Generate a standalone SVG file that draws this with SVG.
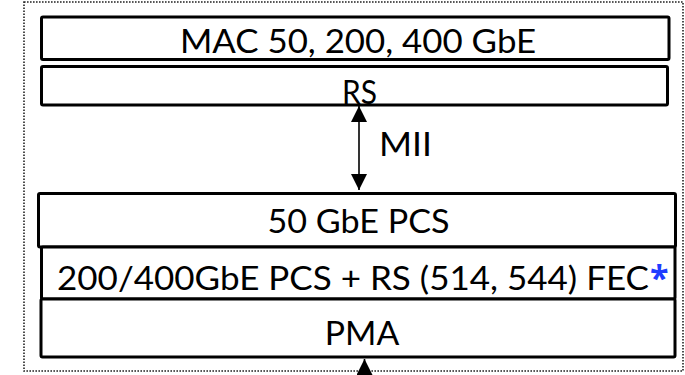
<svg xmlns="http://www.w3.org/2000/svg" width="685" height="375" viewBox="0 0 685 375">
  <style>
    .box { fill: #ffffff; stroke: #000000; stroke-width: 3; }
    .lbl { font-family: Lato, "Open Sans", "Liberation Sans", sans-serif; font-size: 33px; fill: #000000; }
    .star { font-family: "Open Sans", "Liberation Sans", sans-serif; font-size: 34px; font-weight: bold; fill: #1f3cff; }
    .frame { fill: none; stroke: #222222; stroke-width: 1.6; stroke-dasharray: 1.6 1.4; }
    .conn { stroke: #000000; stroke-width: 1.6; fill: none; }
  </style>
  <defs>
    <marker id="ah" viewBox="0 0 16 16" refX="16" refY="8" markerWidth="16" markerHeight="16" markerUnits="userSpaceOnUse" orient="auto-start-reverse">
      <path d="M0,0 L16,8 L0,16 Z" fill="#000000"/>
    </marker>
  </defs>
  <rect width="685" height="375" fill="#ffffff"/>
  <rect class="frame" x="24" y="2" width="659" height="369"/>

  <g id="mac">
    <rect class="box" x="41.5" y="17" width="627.5" height="42.5" rx="1.5"/>
    <text class="lbl" x="358" y="52.5" text-anchor="middle" textLength="356" lengthAdjust="spacingAndGlyphs">MAC 50, 200, 400 GbE</text>
  </g>
  <g id="rs">
    <rect class="box" x="41.5" y="66.5" width="626" height="38.5" rx="1.5"/>
    <text class="lbl" x="359.5" y="104" text-anchor="middle" textLength="35" lengthAdjust="spacingAndGlyphs">RS</text>
  </g>
  <g id="pcs50">
    <rect class="box" x="38.5" y="193.5" width="637" height="53.5" rx="1.5"/>
    <text class="lbl" x="358.5" y="233" text-anchor="middle" textLength="182" lengthAdjust="spacingAndGlyphs">50 GbE PCS</text>
  </g>
  <g id="pcs400">
    <rect class="box" x="41.5" y="247" width="633.5" height="52" rx="1.5"/>
    <text class="lbl" x="57" y="290" textLength="592" lengthAdjust="spacingAndGlyphs">200/400GbE PCS + RS (514, 544) FEC</text>
    <text class="star" x="650" y="290">*</text>
  </g>
  <g id="pma">
    <rect class="box" x="41" y="299" width="634" height="58" rx="1.5"/>
    <text class="lbl" x="362" y="345" text-anchor="middle" textLength="74.5" lengthAdjust="spacingAndGlyphs">PMA</text>
  </g>

  <g id="connectors">
    <line class="conn" x1="359" y1="106" x2="359" y2="190" marker-start="url(#ah)" marker-end="url(#ah)"/>
    <text class="lbl" x="379" y="156" textLength="53" lengthAdjust="spacingAndGlyphs">MII</text>
    <line class="conn" x1="364.5" y1="375" x2="364.5" y2="359" marker-end="url(#ah)"/>
  </g>
</svg>
